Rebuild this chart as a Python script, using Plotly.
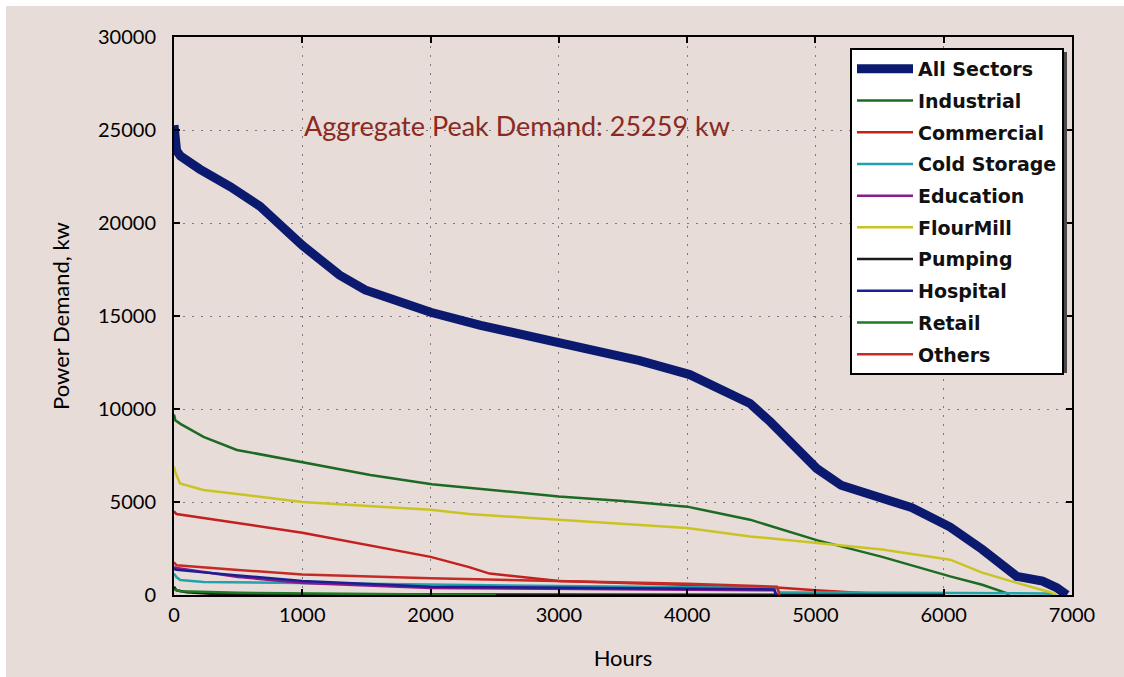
import plotly.graph_objects as go

# ---- data (hours, power demand kw) ----
all_h = [0, 5, 20, 50, 200, 440, 670, 1000, 1290, 1490, 1760, 2000, 2390, 3000, 3630, 4020, 4250, 4490, 4650, 4800, 5010, 5200, 5520, 5750, 6050, 6300, 6570, 6770, 6880, 6960]
all_v = [25259, 24300, 23900, 23600, 22900, 21950, 20900, 18800, 17200, 16400, 15750, 15200, 14500, 13600, 12600, 11850, 11050, 10300, 9300, 8200, 6800, 5900, 5150, 4700, 3650, 2450, 1000, 750, 400, 0]

ind_h = [0, 10, 50, 230, 490, 1000, 1530, 2010, 2300, 3000, 3500, 4000, 4490, 5010, 5520, 6050, 6300, 6490, 6510]
ind_v = [9700, 9400, 9200, 8500, 7800, 7150, 6450, 5950, 5750, 5300, 5050, 4750, 4050, 2950, 2050, 1000, 550, 100, 0]

com_h = [0, 20, 1000, 2000, 2300, 2460, 3000, 4000, 4700, 5000, 5500]
com_v = [4500, 4350, 3350, 2050, 1500, 1150, 750, 550, 400, 250, 50]

cold_h = [0, 20, 50, 230, 1000, 2000, 3000, 4000, 4700, 4720, 6000, 6800, 6850]
cold_v = [1150, 950, 800, 700, 650, 550, 480, 420, 380, 150, 100, 80, 0]

edu_h = [0, 20, 500, 1000, 2000, 3000, 4000, 4680, 4700]
edu_v = [1500, 1450, 970, 650, 380, 330, 280, 250, 0]

flour_h = [0, 10, 47, 230, 1000, 2000, 2300, 3000, 4000, 4490, 5010, 5520, 6050, 6300, 6570, 6830, 6880]
flour_v = [6900, 6600, 6000, 5650, 5000, 4580, 4350, 4050, 3600, 3150, 2800, 2450, 1900, 1200, 650, 150, 0]

pump_h = [0, 20, 100, 300, 1000, 3000, 6000, 6010]
pump_v = [450, 250, 150, 60, 40, 30, 20, 0]

hosp_h = [0, 20, 500, 1000, 2000, 3000, 4000, 4680, 4690]
hosp_v = [1400, 1350, 1050, 750, 450, 380, 330, 300, 0]

ret_h = [0, 50, 500, 1500, 2500, 2510]
ret_v = [300, 200, 120, 80, 40, 0]

oth_h = [0, 20, 500, 1000, 2000, 3000, 4000, 4700, 4720]
oth_v = [1750, 1600, 1350, 1100, 900, 750, 600, 450, 0]

series = [
    ("All Sectors", all_h, all_v, "#0b1a6e", 9),
    ("Industrial", ind_h, ind_v, "#1d6a22", 2.5),
    ("Commercial", com_h, com_v, "#c4201e", 2.5),
    ("Cold Storage", cold_h, cold_v, "#22a3ab", 2.5),
    ("Education", edu_h, edu_v, "#8a1a8c", 2.5),
    ("FlourMill", flour_h, flour_v, "#c9c424", 2.5),
    ("Pumping", pump_h, pump_v, "#1a1a1a", 2.5),
    ("Hospital", hosp_h, hosp_v, "#1a1f92", 2.5),
    ("Retail", ret_h, ret_v, "#1f7a24", 2.5),
    ("Others", oth_h, oth_v, "#c42a26", 2.5),
]

BG = "#e7dcd8"
W, H = 1124, 677
L, R, T, B = 174, 52, 37, 82
PW, PH = W - L - R, H - T - B

def px_x(p):  # page px -> paper x
    return (p - L) / PW

def px_y(p):  # page px -> paper y
    return (H - B - p) / PH

fig = go.Figure()
for i, (name, h, v, c, w) in enumerate(series):
    fig.add_trace(go.Scatter(x=h, y=v, mode="lines", name=name,
                             line=dict(color=c, width=w),
                             legendgroup=f"g{i}"))

axis_common = dict(
    showline=True, linecolor="black", linewidth=2, mirror="ticks",
    ticks="inside", ticklen=6, tickwidth=2, tickcolor="black",
    showgrid=True, gridcolor="#7a7a7a", gridwidth=1, griddash="2px,7px",
    zeroline=False, tickformat="d",
    tickfont=dict(family="Lato", size=20, color="black"),
)

fig.update_xaxes(range=[0, 7000], dtick=1000, ticklabelstandoff=1,
                 title=dict(text="Hours", font=dict(family="Lato", size=22, color="black"), standoff=26),
                 **axis_common)
fig.update_yaxes(range=[0, 30000], dtick=5000, ticklabelstandoff=12,
                 title=dict(text="Power Demand, kw", font=dict(family="Lato", size=22, color="black"), standoff=22),
                 **axis_common)

fig.add_annotation(x=1000, y=25259, xref="x", yref="y", text="Aggregate Peak Demand: 25259 kw",
                   showarrow=False, xanchor="left", yanchor="middle",
                   font=dict(family="Lato", size=27, color="#8b2a22"))

# thin white strip along top and left edges of the picture
fig.add_shape(type="rect", xref="paper", yref="paper", layer="below",
              x0=px_x(-2), x1=px_x(6), y0=px_y(H + 2), y1=px_y(-2),
              fillcolor="white", line=dict(width=0))
fig.add_shape(type="rect", xref="paper", yref="paper", layer="below",
              x0=px_x(-2), x1=px_x(W + 2), y0=px_y(6), y1=px_y(-2),
              fillcolor="white", line=dict(width=0))
# legend shadow
fig.add_shape(type="rect", xref="paper", yref="paper", layer="above",
              x0=px_x(855), x1=px_x(1067), y0=px_y(373), y1=px_y(52),
              fillcolor="#4a4a4a", line=dict(width=0))

fig.update_layout(
    width=W, height=H,
    margin=dict(l=L, r=R, t=T, b=B, autoexpand=False),
    paper_bgcolor=BG, plot_bgcolor=BG,
    showlegend=True,
    legend=dict(x=px_x(850), y=px_y(48), xanchor="left", yanchor="top",
                bgcolor="white", bordercolor="black", borderwidth=2,
                traceorder="grouped", tracegroupgap=4, itemwidth=56,
                font=dict(family="DejaVu Sans", size=19, color="#111111", weight="bold")),
)

fig.write_html("out.html", config={"displayModeBar": False},
               post_script="document.body.style.margin='0';document.body.style.overflow='hidden';")
